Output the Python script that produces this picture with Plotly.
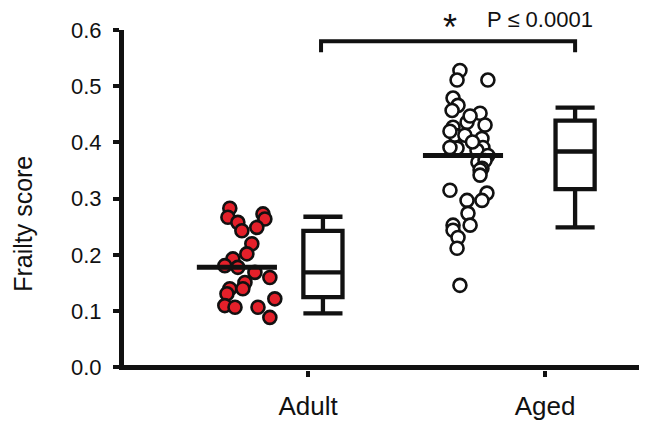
import plotly.graph_objects as go

# ---------------- data ----------------
categories = ["Adult", "Aged"]
category_pos = [1.0, 2.0]

adult_values = [0.283, 0.273, 0.264, 0.267, 0.258, 0.243, 0.249, 0.220, 0.202, 0.193,
                0.181, 0.178, 0.169, 0.160, 0.151, 0.140, 0.140, 0.131, 0.122, 0.110,
                0.107, 0.107, 0.089]
adult_jitter = [-0.030, 0.110, 0.118, -0.038, 0.004, 0.021, 0.084, 0.063, 0.042, -0.017,
                -0.051, 0.004, 0.076, 0.139, 0.034, -0.030, 0.025, -0.042, 0.160, -0.051,
                -0.008, 0.089, 0.139]

aged_values = [0.528, 0.511, 0.511, 0.479, 0.466, 0.457, 0.452, 0.436, 0.431, 0.427,
               0.413, 0.413, 0.407, 0.390, 0.391, 0.391, 0.386, 0.377, 0.365, 0.368,
               0.354, 0.351, 0.342, 0.315, 0.310, 0.297, 0.297, 0.274, 0.253, 0.253,
               0.244, 0.231, 0.212, 0.146, 0.447, 0.420, 0.401]
aged_jitter = [-0.013, -0.025, 0.105, -0.042, -0.021, -0.046, 0.072, 0.017, 0.093, -0.042,
               -0.034, 0.008, 0.080, -0.025, 0.084, -0.055, 0.059, 0.105, 0.063, 0.093,
               0.080, 0.072, 0.072, -0.055, 0.101, 0.080, 0.017, 0.021, 0.030, -0.042,
               -0.042, -0.021, -0.025, -0.013, 0.030, -0.055, 0.040]

means = [0.178, 0.377]

# box summaries: lower whisker, q1, median, q3, upper whisker
box_low = [0.096, 0.249]
box_q1 = [0.125, 0.317]
box_median = [0.169, 0.384]
box_q3 = [0.243, 0.439]
box_high = [0.268, 0.462]

y_ticks = [0.0, 0.1, 0.2, 0.3, 0.4, 0.5, 0.6]
y_ticktext = ["0.0", "0.1", "0.2", "0.3", "0.4", "0.5", "0.6"]

p_text = "P \u2264 0.0001"

# ---------------- layout helpers ----------------
dots_shift = [-0.300, -0.346]   # dot cluster centre relative to category tick
box_shift = [0.063, 0.127]      # box centre relative to category tick
mean_half = 0.169
box_width = 0.165
FONT = "Liberation Sans, Arial, Helvetica, sans-serif"
INK = "#111111"

fig = go.Figure()

groups = [
    (adult_values, adult_jitter, "#e3202a"),
    (aged_values, aged_jitter, "white"),
]
for i, (vals, jit, fill) in enumerate(groups):
    cx = category_pos[i] + dots_shift[i]
    fig.add_trace(go.Scatter(
        x=[cx + j for j in jit], y=vals, mode="markers",
        marker=dict(size=13, color=fill, line=dict(color=INK, width=2.6)),
        showlegend=False, hoverinfo="y"))

for i in range(2):
    cx = category_pos[i] + dots_shift[i]
    fig.add_trace(go.Scatter(
        x=[cx - mean_half, cx + mean_half], y=[means[i], means[i]],
        mode="lines", line=dict(color=INK, width=5), showlegend=False))

for i in range(2):
    bx = category_pos[i] + box_shift[i]
    fig.add_trace(go.Box(
        x=[bx], q1=[box_q1[i]], median=[box_median[i]], q3=[box_q3[i]],
        lowerfence=[box_low[i]], upperfence=[box_high[i]],
        width=box_width, whiskerwidth=1, fillcolor="white",
        line=dict(color=INK, width=4.3), boxpoints=False, showlegend=False))

# significance bracket between the two boxes
bx0 = category_pos[0] + box_shift[0] - 0.008
bx1 = category_pos[1] + box_shift[1]
top, drop = 0.580, 0.5605
fig.add_shape(type="path",
              path=f"M {bx0},{drop} L {bx0},{top} L {bx1},{top} L {bx1},{drop}",
              xref="x", yref="y", line=dict(color=INK, width=4))

fig.add_annotation(x=1.599, y=1.035, xref="x", yref="paper", text="*", showarrow=False,
                   xanchor="center", yanchor="middle",
                   font=dict(family=FONT, size=36, color=INK), yshift=-9)
fig.add_annotation(x=1.745, y=1.03, xref="x", yref="paper", text=p_text, showarrow=False,
                   xanchor="left", yanchor="middle",
                   font=dict(family=FONT, size=22, color=INK))

# y-axis title
fig.add_annotation(x=-0.193, y=0.43, xref="paper", yref="paper", text="Frailty score",
                   textangle=-90, showarrow=False, xanchor="center", yanchor="middle",
                   font=dict(family=FONT, size=25, color=INK))

# the page body adds an 8px offset, so the figure is 8px smaller than the window
fig.update_layout(
    width=639, height=417,
    margin=dict(l=116, r=0, t=22, b=55),
    paper_bgcolor="white", plot_bgcolor="white",
    font=dict(family=FONT, color=INK),
    showlegend=False,
    xaxis=dict(range=[0.2236, 2.4304], showgrid=False, zeroline=False, showline=False,
               tickvals=category_pos, ticktext=categories, ticks="outside",
               ticklen=6, tickwidth=4, tickcolor=INK, ticklabelstandoff=7,
               tickfont=dict(family=FONT, size=26, color=INK)),
    yaxis=dict(range=[-0.0045, 0.6], showgrid=False, zeroline=True, zerolinewidth=5,
               zerolinecolor=INK, showline=True, linewidth=5, linecolor=INK,
               tickvals=y_ticks, ticktext=y_ticktext, ticks="outside",
               ticklen=6, tickwidth=4, tickcolor=INK, ticklabelstandoff=7,
               tickfont=dict(family=FONT, size=22, color=INK)),
)

fig.write_html("out.html")
